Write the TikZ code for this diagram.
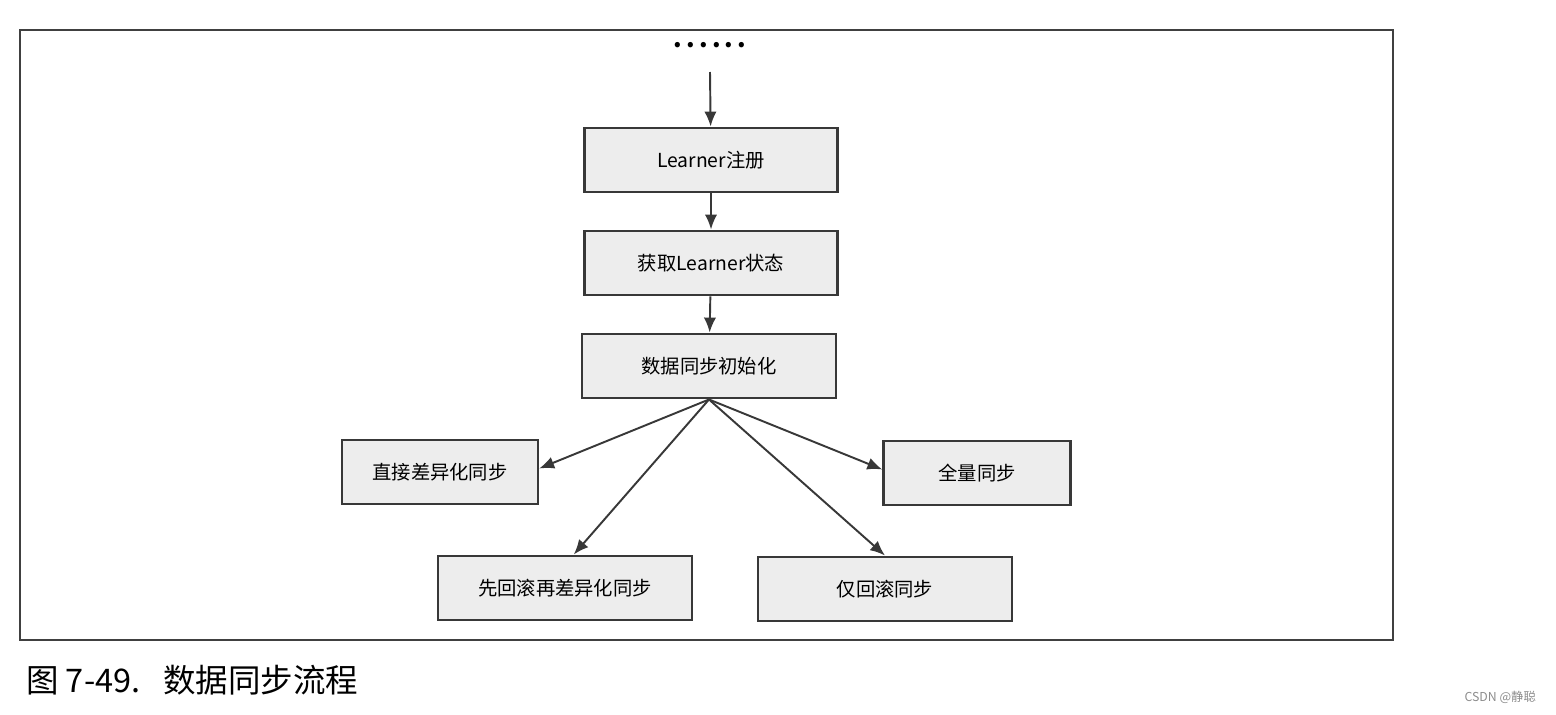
\documentclass[tikz,border=0pt]{standalone}
\usepackage{fontspec}
\setmainfont{Noto Sans CJK SC}
\usepackage{tikz}
\usetikzlibrary{arrows.meta}

\definecolor{boxfill}{gray}{0.93}
\definecolor{boxline}{gray}{0.22}
\tikzset{
  flowbox/.style={draw=boxline, line width=1.4pt, fill=boxfill, inner sep=0pt,
    minimum height=1.29cm, font=\fontsize{11}{13}\selectfont},
  flow/.style={-{Latex[length=8.5pt,width=7pt]}, draw=boxline, line width=1.1pt}
}

\begin{document}
\begin{tikzpicture}[auto, x=0.02cm, y=-0.02cm]
          \useasboundingbox (0,0) rectangle (1556,714);
          \draw[line width=0.9pt, draw=black!75] (20,30) rectangle (1393,640);
          \node[anchor=base] (dots) at (710,47) {\fontsize{14}{14}\selectfont\bfseries .\hspace{2.4pt}.\hspace{2.4pt}.\hspace{2.4pt}.\hspace{2.4pt}.\hspace{2.4pt}.};
          \coordinate (start) at (710,72);
          \node[flowbox, minimum width=5.06cm] (reg) at (711,160) {Learner注册};
          \node[flowbox, minimum width=5.06cm] (state) at (711,263) {获取Learner状态};
          \node[flowbox, minimum width=5.08cm] (init) at (709,366) {数据同步初始化};
          \node[flowbox, minimum width=3.92cm] (diff) at (440,472) {直接差异化同步};
          \node[flowbox, minimum width=3.74cm] (full) at (977,473) {全量同步};
          \node[flowbox, minimum width=5.08cm] (rbdiff) at (565,588) {先回滚再差异化同步};
          \node[flowbox, minimum width=5.08cm] (rb) at (885,589) {仅回滚同步};
          \draw[flow] (start) to (reg);
          \draw[flow] (reg) to (state);
          \draw[flow] (state) to (init);
          \draw[flow] (init.south) to ([yshift=2]diff.east);
          \draw[flow] (init.south) to ([yshift=2]full.west);
          \draw[flow] (init.south) to ([xshift=5]rbdiff.north);
          \draw[flow] (init.south) to (rb.north);
          \node[anchor=west] (caption) at (20,680) {\fontsize{18.5}{20}\selectfont 图 7-49.\hspace{0.7em}数据同步流程};
          \node[anchor=east, text=black!45] (mark) at (1542,697) {\fontsize{7}{8}\selectfont CSDN @静聪};
        \end{tikzpicture}
\end{document}
